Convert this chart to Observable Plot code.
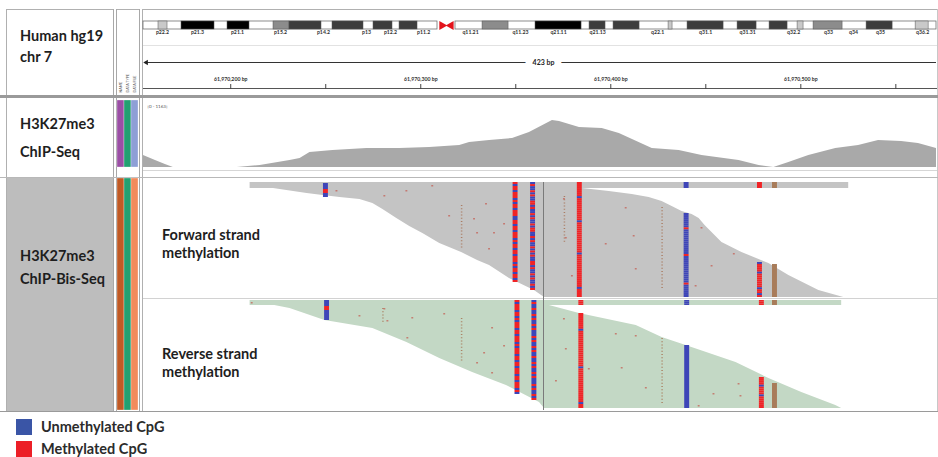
<!DOCTYPE html>
<html>
<head>
<meta charset="utf-8">
<script src="https://cdn.jsdelivr.net/npm/d3@7"></script>
<script src="https://cdn.jsdelivr.net/npm/@observablehq/plot@0.6"></script>
<style>
  html, body { margin: 0; padding: 0; background: #fff; }
  #root { position: relative; width: 938px; height: 457px; overflow: hidden; font-family: Lato, "Open Sans", sans-serif; }
  .ln { position: absolute; }
  .txt { position: absolute; font-family: Lato, sans-serif; font-weight: 700; font-size: 14.5px; color: #1e1e1e; white-space: nowrap; line-height: 1; }
  .pl { position: absolute; }
  .pl svg { display: block; overflow: visible; }
  #legend { position: absolute; left: 16px; top: 418px; }
  #legend, #legend * { font-family: Lato, sans-serif !important; font-size: 14.5px !important; font-weight: 700 !important; color: #2b2b2b !important; }
  #legend svg { margin-right: 9px !important; }
  #legend > div > div { padding-bottom: 5px !important; }
</style>
</head>
<body>
<div id="root"></div>
<script>
// ---------------- DATA ----------------
const base = 61970000;                       // bp offset used by the position arrays
const viewStart = base + 154.1;
const viewEnd = base + 571.4;
const viewCenter = base + 364.6;
const spanLabel = "423 bp";
const rulerMajor = [61970200, 61970300, 61970400, 61970500];
const rulerMinor = [61970250, 61970350, 61970450, 61970550];

// chr7 ideogram (Mb)
const chrLength = 159.14;
const bandStart = [3.01, 7.63, 16.86, 26.09, 29.30, 37.93, 46.16, 51.38, 68.04, 78.67, 89.51, 94.33, 105.37, 109.18, 119.22, 125.64, 131.26, 134.47, 145.11, 154.95];
const bandEnd   = [4.82, 14.25, 21.27, 29.30, 35.72, 44.15, 49.97, 54.99, 73.26, 87.91, 92.72, 99.55, 106.17, 116.41, 123.03, 129.25, 132.46, 140.29, 150.33, 157.56];
const bandStain = ["gpos25","gpos100","gpos100","gpos50","gpos75","gpos75","gpos75","gpos75","gpos50","gpos100","gpos75","gpos75","gpos25","gpos75","gpos75","gpos75","gpos25","gpos50","gpos75","gpos25"];
const armStart = [0, 62.61];
const armEnd = [59.0, 159.14];
const cenPos = [59.9, 61.7];
const cenDir = [90, -90];
const bandLabel = ["p22.2","p21.3","p21.1","p15.2","p14.2","p13","p12.2","p11.2","q11.21","q11.23","q21.11","q21.13","q22.1","q31.1","q31.31","q32.2","q33","q34","q35","q36.2"];
const bandLabelPos = [3.81, 10.84, 18.87, 27.50, 36.13, 44.76, 49.57, 56.20, 65.63, 75.66, 83.29, 91.12, 103.16, 112.79, 121.22, 130.46, 137.48, 142.50, 147.92, 156.35];

// track names
const headerName = ["Human hg19", "chr 7"];
const chipName = ["H3K27me3", "ChIP-Seq"];
const bisName = ["H3K27me3", "ChIP-Bis-Seq"];
const fwdName = ["Forward strand", "methylation"];
const revName = ["Reverse strand", "methylation"];

// attribute panel
const attrNames = ["NAME", "DATA TYPE", "DATA FILE"];
const attrColorsChip = ["#9b4fa5", "#22a071", "#8e9fd6"];
const attrColorsBis = ["#c05a25", "#22a071", "#f28b5c"];

// ChIP-Seq coverage
const covRangeLabel = "[0 - 1163]";
const covMax = 1163;
const covPos = [154.1,160.4,165.6,169.8,203.4,215.5,231.2,236.5,241.7,253.8,271.7,289.0,304.7,320.5,325.7,336.2,348.3,357.2,369.3,373.0,383.5,395.5,404.5,421.8,436.0,448.0,467.5,478.0,485.8,493.7,504.2,518.4,530.4,540.9,553.0,561.9,571.4];
const covVal = [208,122,52,0,0,35,122,156,260,295,330,330,347,382,434,469,503,608,816,799,694,677,590,330,295,208,122,35,0,87,208,330,382,469,451,417,330];

// forward strand reads (row -> outer edge position)
const fwdLeftRow = [0,4,7,11,13,15,17,21,27,36,44,51,61,70,78,83,96,108,115];
const fwdLeftPos = [210.2,215.5,226.0,240.2,248.6,257.5,268.0,274.8,280.1,287.4,294.2,301.1,310.0,321.5,329.9,336.2,346.7,359.8,365.1];
const fwdRightRow = [6,9,12,15,19,24,29,32,36,43,60,70,81,93,108,115];
const fwdRightPos = [385.0,399.2,411.3,420.2,427.0,432.3,437.5,442.8,446.5,449.6,458.5,469.0,483.2,493.7,509.5,522.6];
const fwdStrip = {start: 210.2, end: 525.2, r0: 0, r1: 6};

// reverse strand reads
const revLeftRow = [0,8,20,28,42,58,72,85,102,108];
const revLeftPos = [210.2,231.2,249.6,274.8,292.7,310.0,327.3,345.1,362.5,365.1];
const revRightRow = [5,13,25,37,45,62,78,92,105,108];
const revRightPos = [367.7,383.5,413.4,427.0,439.6,465.9,483.2,500.5,518.4,521.5];
const revStrip = {start: 210.2, end: 521.5, r0: 0, r1: 5};

// CpG calls per site (B = unmethylated, R = methylated, X = other mismatch), top to bottom
const cpgFwd = [
  {pos: 250.1, r0: 1, r1: 15, s: "BBBRRBB"},
  {pos: 349.9, r0: 0, r1: 100, s: "RBRRBRRRBRBRRBRRRBBRRBRRBRRRBRBRRBRRBRRRBRBRRBRRBR"},
  {pos: 359.1, r0: 0, r1: 108, s: "BRBBRBRBBRRBRBBRBRBBRBRRBBRBRBBRBRBRBBRRBRBBRBRBBRBR"},
  {pos: 383.7, r0: 0, r1: 115, s: "RRRRRRRBRRRRRRRRRRRBRRRRRRRRRRRRRRRBRRRRRRRRRRRRRRRRBRRRR"},
  {pos: 439.9, r0: 0, r1: 6, s: "BBB"},
  {pos: 439.9, r0: 31, r1: 115, s: "BBBBBBBRBBBBBBBBBBBBRBBBBBBBBBBBBBRBBBBBB"},
  {pos: 478.5, r0: 0, r1: 6, s: "RRR"},
  {pos: 478.5, r0: 80, r1: 115, s: "BRRRRBRRRRRRRBRRBR"},
  {pos: 486.4, r0: 0, r1: 6, s: "X"},
  {pos: 486.4, r0: 82, r1: 115, s: "X"}
];
const cpgRev = [
  {pos: 250.7, r0: 0, r1: 20, s: "BBBRRBBBBB"},
  {pos: 350.9, r0: 0, r1: 94, s: "RBRRRBRRBRBRRRBRRBRRRBRBRRRBRRBRRBRRRBRRBRRRBRB"},
  {pos: 359.8, r0: 0, r1: 100, s: "BRBBRBBRBRBBRBRBBBRBRBBRBRBBRBBRBRBBRBRBBBRBRBBRBR"},
  {pos: 384.5, r0: 0, r1: 5, s: "RRR"},
  {pos: 384.5, r0: 13, r1: 108, s: "RRRRRRRRBRRRRRRRRRRRRRRRRRRBRRRRRRRRRRRRRRRRRBRR"},
  {pos: 440.2, r0: 0, r1: 5, s: "BBB"},
  {pos: 440.2, r0: 45, r1: 108, s: "B"},
  {pos: 479.5, r0: 0, r1: 5, s: "RRR"},
  {pos: 479.5, r0: 77, r1: 108, s: "RRRRBRRRRBRRRRRR"},
  {pos: 486.4, r0: 0, r1: 5, s: "X"},
  {pos: 486.4, r0: 83, r1: 108, s: "X"}
];

// scattered mismatches
const mmFwdPos = [255.9,281.1,292.7,306.3,315.2,334.6,338.8,344.1,328.3,329.9,336.2,375.6,376.6,379.8,397.6,408.1,412.3,413.4,448.0,453.3,465.0,444.9];
const mmFwdRow = [8,13,8,3,33,21,50,41,36,50,66,16,55,93,61,25,53,86,45,83,71,103];
const mmRevPos = [211.3,268.0,281.1,282.7,295.8,293.2,312.6,337.8,344.1,333.6,329.9,337.8,375.6,376.6,371.4,388.7,402.9,406.0,413.4,418.7,446.5,454.3,467.5,468.5];
const mmRevRow = [2,15,8,20,17,37,13,27,45,52,62,72,18,48,80,68,33,67,35,87,105,93,83,95];
const dotFwd = [{pos: 321.5, r0: 23, r1: 66}, {pos: 375.6, r0: 14, r1: 60}, {pos: 427.0, r0: 25, r1: 108}];
const dotRev = [{pos: 280.1, r0: 8, r1: 22}, {pos: 321.5, r0: 18, r1: 62}, {pos: 427.0, r0: 38, r1: 105}];

// legend
const legendLabels = ["Unmethylated CpG", "Methylated CpG"];
const legendColors = ["#3a55a6", "#ec1f27"];
const stateLabels = ["Unmethylated CpG", "Methylated CpG", "Mismatch"];
const stateColors = ["#3e45b8", "#f02326", "#a87c5a"];

// ---------------- LAYOUT HELPERS ----------------
const root = document.getElementById("root");
function mkLine(x, y, w, h, c) {
  const d = document.createElement("div");
  d.className = "ln";
  Object.assign(d.style, {left: x + "px", top: y + "px", width: w + "px", height: h + "px", background: c});
  root.appendChild(d);
}
function mkText(t, x, baseline) {
  const d = document.createElement("div");
  d.className = "txt";
  d.textContent = t;
  d.style.left = x + "px";
  d.style.top = (baseline - 12.9) + "px";
  root.appendChild(d);
}
function place(node, x, y) {
  const w = document.createElement("div");
  w.className = "pl";
  w.style.left = x + "px";
  w.style.top = y + "px";
  w.appendChild(node);
  root.appendChild(w);
  return w;
}
const FONT = "Lato, sans-serif";
const tr = {background: "transparent", overflow: "visible", fontFamily: FONT};

// ---------------- PANELS ----------------
mkLine(7, 178, 106, 233, "#bdbdbd");       // ChIP-Bis-Seq name background
mkLine(142, 9, 796, 1, "#b0b0b0");
mkLine(142, 9, 1, 402, "#b0b0b0");
mkLine(937, 9, 1, 402, "#c8c8c8");
mkLine(6, 9, 108, 1, "#b0b0b0");
mkLine(6, 9, 1, 402, "#b0b0b0");
mkLine(113, 9, 1, 402, "#a8a8a8");
mkLine(116, 9, 24, 1, "#b0b0b0");
mkLine(116, 9, 1, 402, "#a8a8a8");
mkLine(139, 9, 1, 402, "#a8a8a8");
mkLine(143, 45, 794, 1, "#e2e2e2");
mkLine(143, 88, 794, 1, "#555555");
mkLine(0, 95, 938, 3, "#9a9a9a");
mkLine(143, 170, 794, 1, "#d6d6d6");
mkLine(0, 177, 938, 1, "#b8b8b8");
mkLine(143, 298, 794, 1, "#d2d2d2");
mkLine(0, 411, 938, 1, "#9a9a9a");

// names
mkText(headerName[0], 20, 41.5);
mkText(headerName[1], 20, 62.5);
mkText(chipName[0], 20, 130);
mkText(chipName[1], 20, 157.5);
mkText(bisName[0], 20, 262);
mkText(bisName[1], 20, 285);

// ---------------- IDEOGRAM ----------------
const stainColor = {gpos25: "#c9c9c9", gpos50: "#8c8c8c", gpos75: "#3d3d3d", gpos100: "#000000"};
const bands = bandStart.map((s, i) => ({start: s, end: bandEnd[i], stain: bandStain[i]}));
const arms = armStart.map((s, i) => ({start: s, end: armEnd[i]}));
const cen = cenPos.map((p, i) => ({pos: p, dir: cenDir[i]}));
const labels = bandLabel.map((n, i) => ({name: n, pos: bandLabelPos[i]}));
place(Plot.plot({
  width: 795, height: 20, marginTop: 2, marginBottom: 10, marginLeft: 0, marginRight: 2,
  x: {domain: [0, chrLength], axis: null},
  style: tr,
  marks: [
    Plot.rect(arms, {x1: "start", x2: "end", fill: "white", stroke: "#707070", strokeWidth: 0.8}),
    Plot.rect(bands, {x1: "start", x2: "end", fill: d => stainColor[d.stain], stroke: "#555", strokeWidth: 0.5}),
    Plot.dot(cen, {x: "pos", symbol: "triangle", rotate: "dir", r: 3.4, fill: "#e3141c", stroke: "none"}),
    Plot.text(labels, {x: "pos", text: "name", frameAnchor: "bottom", dy: 4.5, fontSize: 5.2, fontWeight: "bold", fill: "#333", fontFamily: FONT})
  ]
}), 143, 19);

// ---------------- RULER ----------------
place(Plot.plot({
  width: 795, height: 14, margin: 0, marginRight: 2,
  x: {domain: [viewStart, viewEnd], axis: null},
  y: {domain: [-1, 1], axis: null},
  style: tr,
  marks: [
    Plot.ruleY([0], {x1: viewStart + 1.5, x2: viewEnd, stroke: "#333", strokeWidth: 1}),
    Plot.dot([viewStart + 1.5], {x: d => d, y: 0, symbol: "triangle", rotate: -90, r: 2, fill: "#222", stroke: "none"}),
    Plot.text([spanLabel], {x: viewCenter, y: 0, text: d => d, fontSize: 7, fontWeight: "bold", fill: "#222", stroke: "white", strokeWidth: 14, fontFamily: FONT})
  ]
}), 143, 55);

place(Plot.plot({
  width: 795, height: 18, marginTop: 16, marginBottom: 2, marginLeft: 0, marginRight: 2,
  x: {domain: [viewStart, viewEnd]},
  style: tr,
  marks: [
    Plot.axisX({anchor: "top", ticks: rulerMajor, tickFormat: d => d3.format(",")(d) + " bp", tickSize: 5, tickPadding: 3, fontSize: 5.2, fontWeight: "bold", fill: "#333", stroke: "#444", fontFamily: FONT, label: null}),
    Plot.axisX({anchor: "top", ticks: rulerMinor, tickFormat: () => "", tickSize: 5, stroke: "#444", label: null})
  ]
}), 143, 72);

// ---------------- ATTRIBUTES ----------------
place(Plot.plot({
  width: 22, height: 36, margin: 0,
  x: {type: "band", domain: attrNames, padding: 0, axis: null},
  style: tr,
  marks: [
    Plot.text(attrNames, {x: d => d, text: d => d, rotate: -90, frameAnchor: "bottom", textAnchor: "start", fontSize: 3.6, fill: "#666", fontFamily: FONT})
  ]
}), 117, 56);
place(Plot.plot({
  width: 21, height: 67, margin: 0,
  x: {type: "band", domain: attrNames, padding: 0, axis: null},
  style: tr,
  marks: [Plot.cell(attrNames, {x: d => d, fill: (d, i) => attrColorsChip[i], stroke: "white", strokeWidth: 0.3})]
}), 117, 100);
place(Plot.plot({
  width: 21, height: 232, margin: 0,
  x: {type: "band", domain: attrNames, padding: 0, axis: null},
  style: tr,
  marks: [Plot.cell(attrNames, {x: d => d, fill: (d, i) => attrColorsBis[i], stroke: "white", strokeWidth: 0.3})]
}), 117, 178);

// ---------------- COVERAGE ----------------
const cov = covPos.map((p, i) => ({pos: base + p, val: covVal[i]}));
place(Plot.plot({
  width: 795, height: 68, margin: 0, marginRight: 2, marginBottom: 1,
  x: {domain: [viewStart, viewEnd], axis: null},
  y: {domain: [0, covMax], axis: null},
  style: tr,
  marks: [
    Plot.areaY(cov, {x: "pos", y: "val", fill: "#a9a9a9"}),
    Plot.text([covRangeLabel], {text: d => d, frameAnchor: "top-left", dx: 4, dy: 4, fontSize: 4.5, fill: "#555", fontFamily: FONT})
  ]
}), 143, 100);

// ---------------- ALIGNMENTS ----------------
const stateOf = {B: stateLabels[0], R: stateLabels[1], X: stateLabels[2]};
function alignmentPlot({height, yMin, fill, leftRow, leftPos, rightRow, rightPos, strip, cpg, mmPos, mmRow, dotted}) {
  const left = leftRow.map((r, i) => ({row: r, pos: base + leftPos[i]}));
  const right = rightRow.map((r, i) => ({row: r, pos: base + rightPos[i]}));
  const cells = cpg.flatMap(c => Array.from(c.s, (ch, i) => ({
    pos: base + c.pos,
    y1: c.r0 + (c.r1 - c.r0) * i / c.s.length,
    y2: c.r0 + (c.r1 - c.r0) * (i + 1) / c.s.length,
    state: stateOf[ch]
  })));
  const mm = mmPos.map((p, i) => ({pos: base + p, row: mmRow[i]}));
  return Plot.plot({
    width: 795, height, margin: 0, marginRight: 2,
    x: {domain: [viewStart, viewEnd], axis: null},
    y: {domain: [yMin, yMin + height], range: [0, height], axis: null},
    color: {domain: stateLabels, range: stateColors},
    style: tr,
    marks: [
      Plot.areaX(left, {y: "row", x1: "pos", x2: () => viewCenter, fill}),
      Plot.areaX(right, {y: "row", x1: () => viewCenter, x2: "pos", fill}),
      Plot.rect([strip], {x1: d => base + d.start, x2: d => base + d.end, y1: "r0", y2: "r1", fill}),
      Plot.ruleX(dotted, {x: d => base + d.pos, y1: "r0", y2: "r1", stroke: "#a0603c", strokeWidth: 1.5, strokeDasharray: "1,2.2", strokeOpacity: 0.7}),
      Plot.rect(mm, {x1: d => d.pos - 0.5, x2: d => d.pos + 0.5, y1: "row", y2: d => d.row + 1.5, fill: "#c45a4e", fillOpacity: 0.7}),
      Plot.rect(cells, {x1: d => d.pos - 1.3, x2: d => d.pos + 1.3, y1: "y1", y2: "y2", fill: "state"}),
      Plot.ruleX([viewCenter], {stroke: "#7a7a7a", strokeWidth: 1})
    ]
  });
}
place(alignmentPlot({height: 116, yMin: 0, fill: "#c4c4c4", leftRow: fwdLeftRow, leftPos: fwdLeftPos, rightRow: fwdRightRow, rightPos: fwdRightPos, strip: fwdStrip, cpg: cpgFwd, mmPos: mmFwdPos, mmRow: mmFwdRow, dotted: dotFwd}), 143, 182);
place(alignmentPlot({height: 112, yMin: -2, fill: "#c3d8c5", leftRow: revLeftRow, leftPos: revLeftPos, rightRow: revRightRow, rightPos: revRightPos, strip: revStrip, cpg: cpgRev, mmPos: mmRevPos, mmRow: mmRevRow, dotted: dotRev}), 143, 298);

mkText(fwdName[0], 162, 241);
mkText(fwdName[1], 162, 259);
mkText(revName[0], 162, 360);
mkText(revName[1], 162, 378);

// ---------------- LEGEND ----------------
const legend = Plot.legend({color: {type: "ordinal", domain: legendLabels, range: legendColors}, columns: 1, swatchSize: 16});
const lw = document.createElement("div");
lw.id = "legend";
lw.appendChild(legend);
root.appendChild(lw);
</script>
</body>
</html>
